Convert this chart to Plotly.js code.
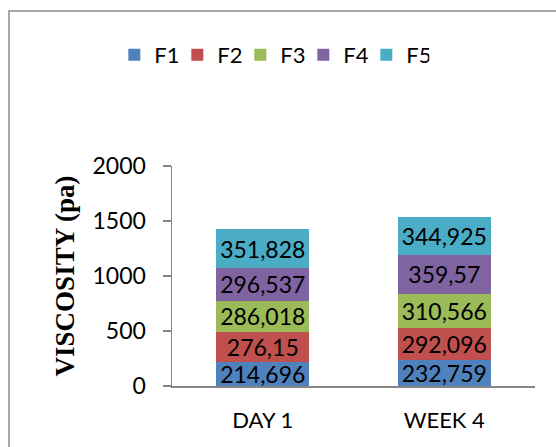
<!DOCTYPE html>
<html>
<head>
<meta charset="utf-8">
<script src="https://cdn.plot.ly/plotly-3.0.1.min.js"></script>
<style>html,body{margin:0;padding:0;background:#fff;}#chart{width:556px;height:447px;}</style>
</head>
<body>
<div id="chart"></div>
<script>
const categories = ['DAY 1', 'WEEK 4'];
const seriesNames = ['F1', 'F2', 'F3', 'F4', 'F5'];
const F1 = [214.696, 232.759];
const F2 = [276.15, 292.096];
const F3 = [286.018, 310.566];
const F4 = [296.537, 359.57];
const F5 = [351.828, 344.925];
const seriesValues = [F1, F2, F3, F4, F5];
const colors = ['#4F81BD', '#C0504D', '#9BBB59', '#8064A2', '#4BACC6'];
const yTicks = [0, 500, 1000, 1500, 2000];

const traces = seriesValues.map((vals, i) => ({
  type: 'bar',
  name: seriesNames[i],
  x: categories,
  y: vals,
  marker: {color: colors[i], line: {width: 0}},
  text: vals.map(v => String(v).replace('.', ',')),
  textposition: 'inside',
  insidetextanchor: 'middle',
  constraintext: 'none',
  textfont: {family: 'Lato, sans-serif', size: 23, color: '#000'},
  hoverinfo: 'none'
}));

const layout = {
  width: 556, height: 447,
  margin: {l: 172, r: 21, t: 166, b: 61},
  barmode: 'stack',
  bargap: 0.49,
  paper_bgcolor: '#fff', plot_bgcolor: '#fff',
  font: {family: 'Lato, sans-serif', size: 22, color: '#000'},
  showlegend: true,
  legend: {
    orientation: 'h', x: 0.275, xanchor: 'center', y: 1.505, yanchor: 'middle',
    font: {family: 'Lato, sans-serif', size: 22, color: '#000'},
    itemwidth: 30, entrywidth: 18, entrywidthmode: 'pixels',
    traceorder: 'normal', itemclick: false
  },
  xaxis: {
    showline: true, linecolor: '#868686', linewidth: 1.5,
    ticks: '', showgrid: false, zeroline: false,
    tickfont: {family: 'Lato, sans-serif', size: 22, color: '#000'},
    ticklabelstandoff: 14, fixedrange: true
  },
  yaxis: {
    range: [0, 2000], tickvals: yTicks, ticktext: yTicks.map(String),
    showline: true, linecolor: '#868686', linewidth: 1.5,
    ticks: 'outside', ticklen: 8, tickcolor: '#868686', tickwidth: 1.5,
    showgrid: false, zeroline: false,
    tickfont: {family: 'Lato, sans-serif', size: 23, color: '#000'},
    ticklabelstandoff: 12,
    title: {text: 'VISCOSITY (pa)', font: {family: 'Liberation Serif, serif', size: 27, color: '#000', weight: 'bold'}, standoff: 10},
    fixedrange: true
  },
  shapes: [{
    type: 'rect', xref: 'paper', yref: 'paper',
    x0: -0.449, x1: 1.2, y0: -0.5, y1: 1.705,
    line: {color: '#8c8c8c', width: 1.5}, fillcolor: 'rgba(0,0,0,0)', layer: 'below'
  }]
};

Plotly.newPlot('chart', traces, layout, {displayModeBar: false, staticPlot: true});
</script>
</body>
</html>
